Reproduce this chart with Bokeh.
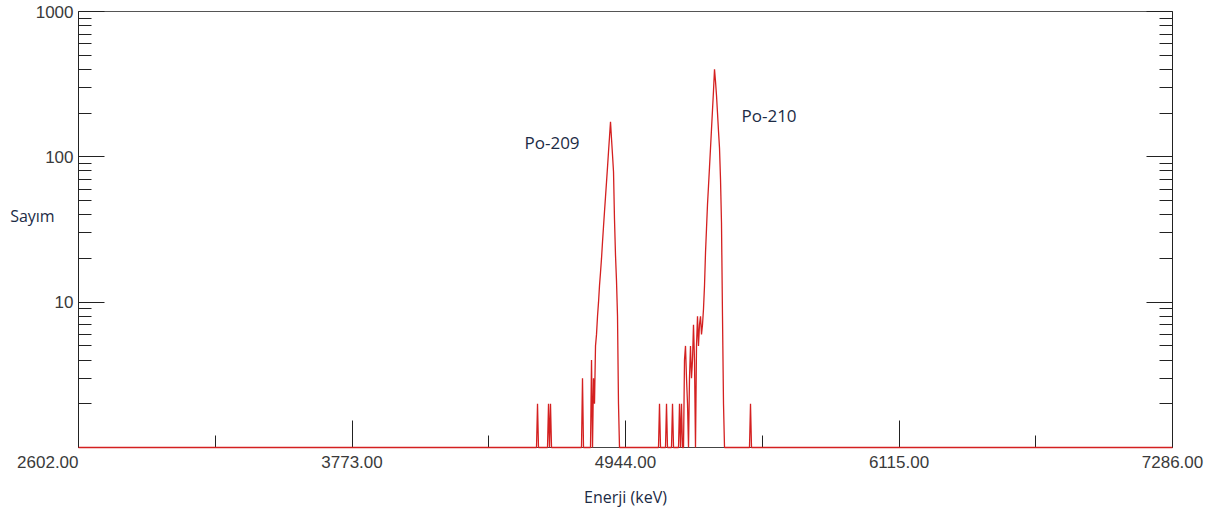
from bokeh.plotting import figure
from bokeh.models import FixedTicker, LogAxis, Label, Range1d
from bokeh.embed import file_html
from bokeh.resources import INLINE

# Spectrum vertices (energy in keV, counts; empty channels drawn on the baseline = 1)
energy_kev = [
    2602.0,
    4563.0, 4567.3, 4571.5,
    4610.1, 4614.4, 4618.6, 4622.9, 4627.2,
    4755.6, 4759.9, 4764.2,
    4794.2, 4798.5, 4802.8, 4807.0, 4811.3, 4815.6, 4819.9, 4824.2, 4828.5,
    4832.7, 4837.0, 4841.3, 4845.6, 4849.8, 4854.1, 4858.4, 4862.7, 4867.0,
    4871.2, 4875.5, 4879.8, 4884.1, 4888.4, 4892.7, 4896.9, 4901.2, 4905.5,
    4909.8, 4914.0, 4918.3,
    5085.3, 5089.6, 5093.9,
    5115.3, 5119.6, 5123.8,
    5141.0, 5145.3, 5149.6,
    5171.0, 5175.2, 5179.5, 5183.8, 5188.1, 5192.4, 5196.6, 5200.9, 5205.2,
    5209.5, 5213.8, 5218.0, 5222.3, 5226.6, 5230.9, 5235.1, 5239.4, 5243.7,
    5248.0, 5252.3, 5256.5, 5260.8, 5265.2, 5269.4, 5273.7, 5278.0, 5282.3,
    5286.6, 5290.8, 5295.1, 5299.4, 5303.7, 5308.0, 5312.2, 5316.5, 5320.8,
    5325.1, 5329.4, 5333.6, 5337.9, 5342.2, 5346.5, 5350.8, 5355.0, 5359.3,
    5363.6, 5367.9,
    5474.9, 5479.2, 5483.5,
    7286.0,
]
counts = [
    1,
    1, 2, 1,
    1, 2, 1, 2, 1,
    1, 3, 1,
    1, 4, 1, 3, 2, 5, 6, 8, 10,
    13, 16, 20, 26, 33, 42, 53, 67, 85,
    108, 137, 174, 133, 103, 79, 37, 21, 14,
    8, 2, 1,
    1, 2, 1,
    1, 2, 1,
    1, 2, 1,
    1, 2, 1, 2, 1, 1, 4, 5, 3,
    2, 1, 3, 5, 3, 4, 7, 4, 1,
    5, 8, 5, 7, 8, 6, 7, 9, 13,
    22, 32, 47, 63, 85, 115, 155, 210, 285,
    400, 330, 265, 200, 150, 115, 70, 35, 8,
    2, 1,
    1, 2, 1,
    1,
]

x_ticks = [2602, 3773, 4944, 6115, 7286]
x_minor_ticks = [3187.5, 4358.5, 5529.5, 6700.5]
x_tick_labels = ["2602.00", "3773.00", "4944.00", "6115.00", "7286.00"]
y_ticks = [1, 10, 100, 1000]
y_minor_ticks = [2, 3, 4, 5, 6, 7, 8, 9, 20, 30, 40, 50, 60, 70, 80, 90,
                 200, 300, 400, 500, 600, 700, 800, 900]
y_tick_labels = ["", "10", "100", "1000"]
peak_names = ["Po-209", "Po-210"]
peak_label_x = [4511.6, 5440.7]
peak_label_y = [124.7, 194]

TXT = "#1c2b45"
TICKTXT = "#3a3a3a"

p = figure(width=1210, height=510,
           x_range=Range1d(2602, 7286), y_range=Range1d(1, 1000),
           y_axis_type="log", output_backend="svg", toolbar_location=None,
           min_border_left=78, min_border_right=38,
           min_border_top=11, min_border_bottom=61)
p.xgrid.visible = False
p.ygrid.visible = False
p.outline_line_color = "#555555"
p.outline_line_width = 1
p.background_fill_color = "white"
p.border_fill_color = "white"

line = p.line(energy_kev, counts, line_color="#d42020", line_width=1.3)
line.level = "overlay"

# x axis; the first label sits to the left of its tick (padded with no-break spaces)
xa = p.xaxis[0]
xa.ticker = FixedTicker(ticks=x_ticks, minor_ticks=x_minor_ticks)
overrides = {t: l for t, l in zip(x_ticks, x_tick_labels)}
overrides[x_ticks[0]] = x_tick_labels[0] + "\u00a0" * 13
xa.major_label_overrides = overrides
xa.major_tick_in = 27
xa.major_tick_out = 0
xa.minor_tick_in = 12
xa.minor_tick_out = 0
xa.major_tick_line_color = "#222222"
xa.minor_tick_line_color = "#222222"
xa.axis_line_color = "#444444"
xa.major_label_text_font = "Liberation Sans"
xa.major_label_text_font_size = "17px"
xa.major_label_text_color = TICKTXT
xa.major_label_standoff = 5
xa.axis_label = "Enerji (keV)"
xa.axis_label_text_font = "Open Sans"
xa.axis_label_text_font_size = "16px"
xa.axis_label_text_font_style = "normal"
xa.axis_label_text_color = TXT
xa.axis_label_standoff = 11

# y axes (left with labels, right mirrored without)
ya = p.yaxis[0]
ra = LogAxis()
p.add_layout(ra, "right")
for ax, labels in ((ya, y_tick_labels), (ra, [""] * len(y_ticks))):
    ax.ticker = FixedTicker(ticks=y_ticks, minor_ticks=y_minor_ticks)
    ax.major_label_overrides = {t: l for t, l in zip(y_ticks, labels)}
    ax.major_tick_in = 26
    ax.major_tick_out = 0
    ax.minor_tick_in = 13
    ax.minor_tick_out = 0
    ax.major_tick_line_color = "#222222"
    ax.minor_tick_line_color = "#222222"
    ax.axis_line_color = "#222222"
    ax.major_label_text_font = "Liberation Sans"
    ax.major_label_text_font_size = "17px"
    ax.major_label_text_color = TICKTXT
    ax.major_label_standoff = 5
ra.major_label_text_font_size = "1px"
ra.major_label_standoff = 0

# y axis title, horizontal, tucked under the tick labels (raised by an empty second line)
ya.axis_label = "Sayım\n"
ya.axis_label_orientation = "horizontal"
ya.axis_label_text_font = "Open Sans"
ya.axis_label_text_font_size = "16px"
ya.axis_label_text_font_style = "normal"
ya.axis_label_text_color = TXT
ya.axis_label_standoff = -22

for name, lx, ly in zip(peak_names, peak_label_x, peak_label_y):
    p.add_layout(Label(x=lx, y=ly, text=name, text_align="left",
                       text_baseline="middle", text_font="Open Sans",
                       text_font_size="17px", text_color=TXT))

open("out.html", "w").write(file_html(p, INLINE))
